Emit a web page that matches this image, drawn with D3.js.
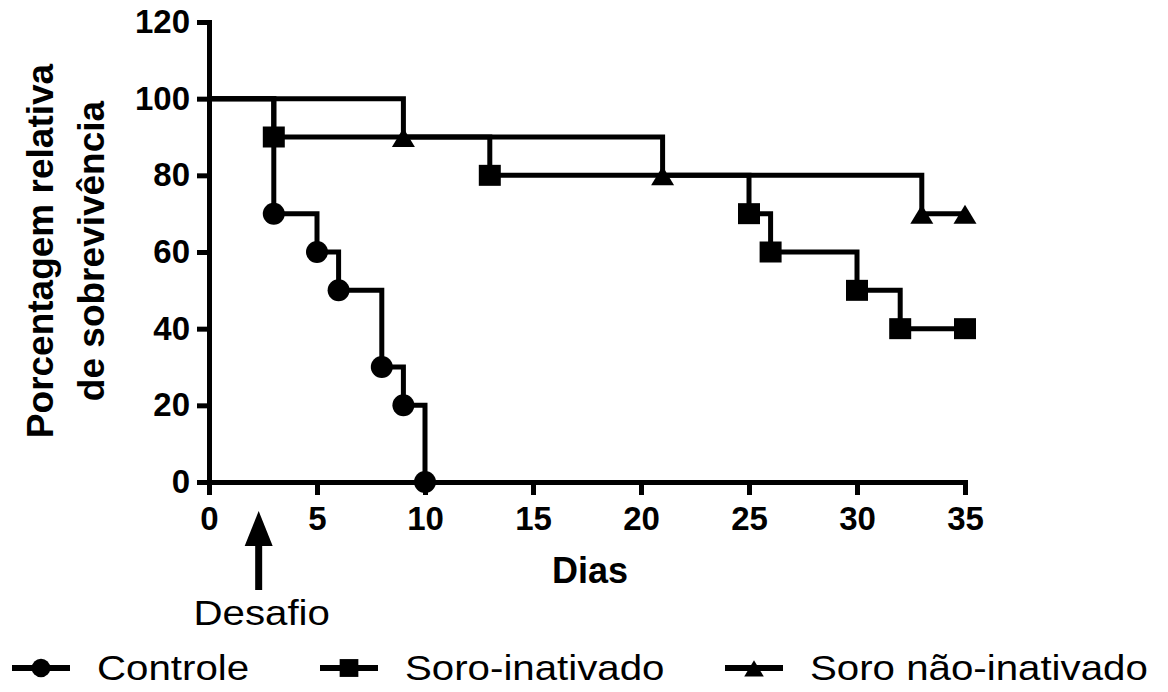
<!DOCTYPE html>
<html>
<head>
<meta charset="utf-8">
<script src="https://cdn.jsdelivr.net/npm/d3@7.9.0/dist/d3.min.js"></script>
<style>
  body { margin: 0; background: #fff; }
  svg { display: block; font-family: "Liberation Sans", Arial, sans-serif; }
</style>
</head>
<body>
<svg id="chart" width="1168" height="692"></svg>
<script>
// ---------------------------------------------------------------
// Data
// ---------------------------------------------------------------
const xTicks = [0, 5, 10, 15, 20, 25, 30, 35];
const yTicks = [0, 20, 40, 60, 80, 100, 120];

const controleDays = [0, 3, 5, 6, 8, 9, 10];
const controleSurv = [100, 70, 60, 50, 30, 20, 0];

const inativadoDays = [0, 3, 13, 25, 26, 30, 32, 35];
const inativadoSurv = [100, 90, 80, 70, 60, 50, 40, 40];

const naoInativadoDays = [0, 9, 21, 33, 35];
const naoInativadoSurv = [100, 90, 80, 70, 70];

const seriesNames = ['Controle', 'Soro-inativado', 'Soro não-inativado'];
const seriesShapes = ['circle', 'square', 'triangle'];

const challengeDay = 2.3;   // "Desafio" arrow
const xLabel = 'Dias';
const yLabel = ['Porcentagem relativa', 'de sobrevivência'];

// ---------------------------------------------------------------
// Setup
// ---------------------------------------------------------------
const svg = d3.select('#chart');
const x = d3.scaleLinear().domain([0, 35]).range([209, 965]);
const y = d3.scaleLinear().domain([0, 120]).range([482, 22]);
const stretch = 1.15; // horizontal stretch of the regular text in the source

const series = [
  { name: seriesNames[0], shape: seriesShapes[0], pts: controleDays.map((d, i) => [d, controleSurv[i]]) },
  { name: seriesNames[1], shape: seriesShapes[1], pts: inativadoDays.map((d, i) => [d, inativadoSurv[i]]) },
  { name: seriesNames[2], shape: seriesShapes[2], pts: naoInativadoDays.map((d, i) => [d, naoInativadoSurv[i]]) },
];

// marker path around (0,0)
function markerPath(shape, big) {
  const k = big ? 1 : 0.85;
  if (shape === 'circle') {
    const r = 11 * k;
    return `M${-r},0A${r},${r} 0 1,0 ${r},0A${r},${r} 0 1,0 ${-r},0Z`;
  }
  if (shape === 'square') {
    const w = 11 * k, h = 10.5 * k;
    return `M${-w},${-h}H${w}V${h}H${-w}Z`;
  }
  const w = 11.5 * k;
  return `M0,${-9 * k}L${w},${10 * k}H${-w}Z`;
}

// ---------------------------------------------------------------
// Axes
// ---------------------------------------------------------------
const yAxis = svg.append('g')
  .attr('transform', `translate(${x(0)},0)`)
  .call(d3.axisLeft(y).tickValues(yTicks).tickSize(12).tickSizeOuter(0).tickPadding(7));

const xAxis = svg.append('g')
  .attr('transform', `translate(0,${y(0)})`)
  .call(d3.axisBottom(x).tickValues(xTicks).tickSize(13).tickSizeOuter(0).tickPadding(12));

[xAxis, yAxis].forEach((g) => {
  g.select('.domain').attr('stroke', '#000').attr('stroke-width', 5).attr('stroke-linecap', 'square');
  g.selectAll('.tick line').attr('stroke', '#000').attr('stroke-width', 5);
  g.selectAll('.tick text')
    .attr('fill', '#000')
    .style('font-size', '33px')
    .style('font-weight', 'bold')
    .style('font-family', '"Liberation Sans", Arial, sans-serif');
});

// axis titles
svg.append('text')
  .attr('x', (x(0) + x(35)) / 2 + 3)
  .attr('y', 583)
  .attr('text-anchor', 'middle')
  .style('font-size', '36px')
  .style('font-weight', 'bold')
  .text(xLabel);

yLabel.forEach((line, i) => {
  svg.append('text')
    .attr('transform', `translate(${53 + i * 51},251) rotate(-90)`)
    .attr('text-anchor', 'middle')
    .style('font-size', '37px')
    .style('font-weight', 'bold')
    .text(line);
});

// ---------------------------------------------------------------
// Survival curves
// ---------------------------------------------------------------
const line = d3.line()
  .x((d) => x(d[0]))
  .y((d) => y(d[1]))
  .curve(d3.curveStepAfter);

svg.append('g')
  .selectAll('path')
  .data(series)
  .join('path')
  .attr('d', (d) => line(d.pts))
  .attr('fill', 'none')
  .attr('stroke', '#000')
  .attr('stroke-width', 5)
  .attr('stroke-linejoin', 'miter');

series.forEach((s) => {
  svg.append('g')
    .selectAll('path')
    .data(s.pts.slice(1))
    .join('path')
    .attr('transform', (d) => `translate(${x(d[0])},${y(d[1])})`)
    .attr('d', markerPath(s.shape, true))
    .attr('fill', '#000');
});

// ---------------------------------------------------------------
// "Desafio" arrow
// ---------------------------------------------------------------
const ax = x(challengeDay);
svg.append('line')
  .attr('x1', ax).attr('x2', ax)
  .attr('y1', 540).attr('y2', 590)
  .attr('stroke', '#000')
  .attr('stroke-width', 7);
svg.append('path')
  .attr('d', `M${ax},511L${ax + 14},546H${ax - 14}Z`)
  .attr('fill', '#000');
svg.append('text')
  .attr('transform', `translate(${ax + 3},625) scale(${stretch},1)`)
  .attr('text-anchor', 'middle')
  .style('font-size', '35px')
  .text('Desafio');

// ---------------------------------------------------------------
// Legend
// ---------------------------------------------------------------
const legendX = [12, 320, 725];
const legendY = 668;
series.forEach((s, i) => {
  const g = svg.append('g').attr('transform', `translate(${legendX[i]},${legendY})`);
  g.append('line')
    .attr('x1', 0).attr('x2', 58)
    .attr('stroke', '#000')
    .attr('stroke-width', 6);
  g.append('path')
    .attr('transform', 'translate(29,0)')
    .attr('d', markerPath(s.shape, false))
    .attr('fill', '#000');
  g.append('text')
    .attr('transform', `translate(85,12) scale(${stretch},1)`)
    .style('font-size', '35px')
    .text(s.name);
});
</script>
</body>
</html>
